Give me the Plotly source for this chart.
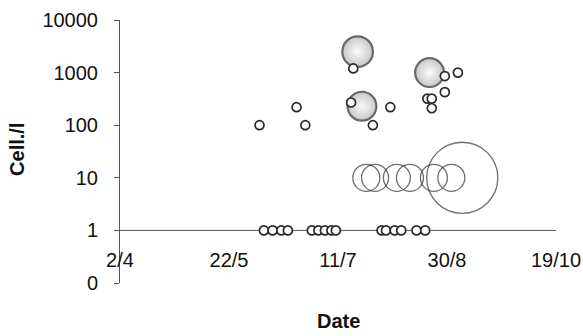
import plotly.graph_objects as go

# ---------------- data ----------------
# samples at the detection baseline (plotted on the "1" line)
baseline_dates = ["2001-06-07", "2001-06-11", "2001-06-15", "2001-06-18",
                  "2001-06-29", "2001-07-02", "2001-07-05", "2001-07-08", "2001-07-10",
                  "2001-07-31", "2001-08-02", "2001-08-06", "2001-08-09",
                  "2001-08-16", "2001-08-20"]
baseline_values = [1] * len(baseline_dates)

# small open circles
small_dates = ["2001-06-05", "2001-06-22", "2001-06-26", "2001-07-18", "2001-07-17",
               "2001-07-27", "2001-08-04", "2001-08-29", "2001-09-04", "2001-08-29",
               "2001-08-21", "2001-08-23", "2001-08-23"]
small_values = [100, 220, 100, 1200, 270, 100, 220, 860, 1000, 425, 320, 320, 210]

# shaded bubbles
bubble_dates = ["2001-07-20", "2001-08-22", "2001-07-22"]
bubble_values = [2500, 1000, 230]
bubble_magnitude = [3.4, 3.2, 3.2]          # relative bubble size

# open rings at 10 cells/l
ring_dates = ["2001-07-24", "2001-07-28", "2001-08-07", "2001-08-13",
              "2001-08-24", "2001-09-01", "2001-09-06"]
ring_values = [10, 10, 10, 10, 10, 10, 10]
ring_magnitude = [3.0, 3.0, 3.0, 3.0, 3.0, 3.0, 7.9]   # relative ring size

x_tick_dates = ["2001-04-02", "2001-05-22", "2001-07-11", "2001-08-30", "2001-10-19"]
x_tick_text = ["2/4", "22/5", "11/7", "30/8", "19/10"]
y_tick_vals = [0.1, 1, 10, 100, 1000, 10000]
y_tick_text = ["0", "1", "10", "100", "1000", "10000"]
x_axis_level = 1   # the date axis crosses the value axis at 1 cell/l

# ---------------- figure ----------------
BASE = 9  # px diameter of a unit-size marker
FONT = "Liberation Sans, Arial, sans-serif"
INK = "#2a2a2a"
AXIS = "#555"

fig = go.Figure()

fig.add_trace(go.Scatter(
    x=ring_dates, y=ring_values, mode="markers",
    marker=dict(size=[m * BASE for m in ring_magnitude], color="rgba(0,0,0,0)",
                line=dict(color="#333", width=1.3)),
    hoverinfo="x+y", showlegend=False))

fig.add_trace(go.Scatter(
    x=bubble_dates, y=bubble_values, mode="markers",
    marker=dict(size=[m * BASE for m in bubble_magnitude], color="#b0b0b0",
                gradient=dict(type="radial", color="#fbfbfb"),
                line=dict(color=INK, width=2.2)),
    hoverinfo="x+y", showlegend=False))

fig.add_trace(go.Scatter(
    x=small_dates, y=small_values, mode="markers",
    marker=dict(size=BASE, color="white", line=dict(color=INK, width=1.7)),
    hoverinfo="x+y", showlegend=False))

fig.add_trace(go.Scatter(
    x=baseline_dates, y=baseline_values, mode="markers",
    marker=dict(size=BASE, color="white", line=dict(color=INK, width=1.7)),
    hoverinfo="x+y", showlegend=False))

# date axis line drawn at the crossing level, with its tick marks
shapes = [dict(type="line", xref="x domain", x0=0, x1=1, yref="y",
               y0=x_axis_level, y1=x_axis_level, layer="below",
               line=dict(color=AXIS, width=1))]
for d in x_tick_dates:
    shapes.append(dict(type="line", xref="x", x0=d, x1=d, yref="y",
                       ysizemode="pixel", yanchor=x_axis_level, y0=0, y1=-5,
                       layer="below", line=dict(color=AXIS, width=1)))

fig.update_layout(
    width=583, height=336,
    margin=dict(l=120, r=27, t=20, b=53, autoexpand=False),
    paper_bgcolor="white", plot_bgcolor="white",
    font=dict(family=FONT, color="#111", size=20),
    shapes=shapes,
    xaxis=dict(
        type="date", range=["2001-04-02", "2001-10-19"],
        tickmode="array", tickvals=x_tick_dates, ticktext=x_tick_text,
        showline=False, ticks="",
        anchor="free", position=0.2, automargin=False,
        showgrid=False, zeroline=False,
        ticklabelstandoff=16,
        tickfont=dict(size=20),
    ),
    yaxis=dict(
        type="log", range=[-1, 4],
        tickmode="array", tickvals=y_tick_vals, ticktext=y_tick_text,
        showline=True, linecolor=AXIS, linewidth=1,
        ticks="outside", ticklen=5, tickcolor=AXIS, automargin=False,
        showgrid=False, zeroline=False,
        ticklabelstandoff=12,
        tickfont=dict(size=20),
    ),
    annotations=[
        dict(text="<b>Cell./l</b>", xref="paper", yref="paper", x=0, y=0.506,
             xshift=-103, textangle=-90, showarrow=False,
             xanchor="center", yanchor="middle", font=dict(size=20)),
        dict(text="<b>Date</b>", xref="paper", yref="paper", x=0.5, y=-0.144,
             showarrow=False, xanchor="center", yanchor="middle",
             font=dict(size=20)),
    ],
)

fig.write_html("out.html")
